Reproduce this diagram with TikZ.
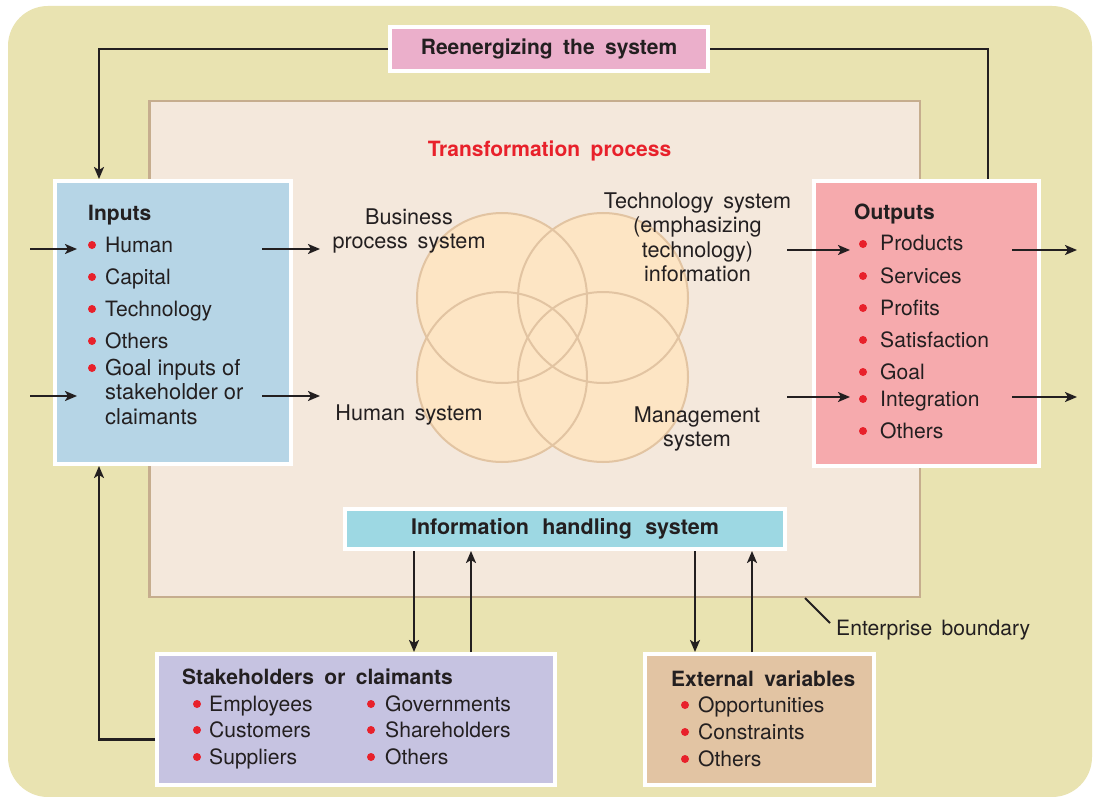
\documentclass[tikz,border=0pt]{standalone}
\usepackage{fontspec}
\setmainfont{TeX Gyre Heros}
\usetikzlibrary{arrows.meta,calc}
\definecolor{bgc}{HTML}{E9E3B1}
\definecolor{entf}{HTML}{F4E8DC}
\definecolor{entb}{HTML}{C6AD8E}
\definecolor{inc}{HTML}{B6D5E6}
\definecolor{outc}{HTML}{F6AAAD}
\definecolor{reenc}{HTML}{EBAFCB}
\definecolor{infoc}{HTML}{9DD8E3}
\definecolor{stkc}{HTML}{C6C3E1}
\definecolor{extc}{HTML}{E2C4A3}
\definecolor{venf}{HTML}{FDE5C4}
\definecolor{venb}{HTML}{E2C4A2}
\definecolor{redc}{HTML}{E8212B}
\definecolor{ink}{HTML}{231F20}
\newcommand\ctrlines[2]{\vtop{\baselineskip=#1pt\halign{\hfil##\hfil\cr#2\crcr}}}
\newcommand\leftlines[2]{\vtop{\baselineskip=#1pt\halign{##\hfil\cr#2\crcr}}}
\newcommand\wsp[1]{\spaceskip=#1em\relax}
\newcommand\bodyfont{\fontsize{21.1}{24.6}\selectfont}
\newcommand\ttlfont{\fontsize{21}{24.6}\selectfont\bfseries\wsp{0.5}}
\newcommand\ctrfont{\fontsize{21.6}{24.6}\selectfont\wsp{0.45}}
\newcommand\myitem[5]{\fill[redc] (#1,#3-7) circle[radius=4pt]; \node[txt] (#4) at (#2,#3) {#5};}
\begin{document}
\begin{tikzpicture}[x=1pt,y=-1pt,
  box/.style={draw=white, line width=4pt, inner sep=0pt},
  txt/.style={inner sep=0pt, anchor=base west, text=ink, font=\bodyfont},
  ctxt/.style={txt, anchor=base, font=\ctrfont},
  ttl/.style={txt, font=\ttlfont},
  ln/.style={line width=2.2pt, draw=ink},
  arr/.style={ln, -{Stealth[length=12pt,width=10pt,inset=3pt]}}]
\useasboundingbox (0,0) rectangle (1093,797);
\fill[white] (0,0) rectangle (1093,797);
\fill[bgc, rounded corners=40pt] (8,6) rectangle (1092,797);

% enterprise boundary
\node[draw=entb, fill=entf, line width=2.5pt, inner sep=0pt, minimum width=770.5pt, minimum height=495.5pt] (ent) at (534.5,349) {};

% venn circles
\foreach \p in {(502,298),(603,298),(502,377),(603,377)} \fill[venf] \p circle[radius=85pt];
\foreach \p in {(502,298),(603,298),(502,377),(603,377)} \draw[venb, line width=2pt] \p circle[radius=85pt];

% boxes
\node[box, fill=reenc, minimum width=318pt, minimum height=44pt, text=ink, font=\ttlfont] (reen) at (549,49) {Reenergizing the system};
\node[box, fill=inc, minimum width=236pt, minimum height=283pt] (inputs) at (173,322.5) {};
\node[box, fill=outc, minimum width=225pt, minimum height=285pt] (outputs) at (926.5,323.5) {};
\node[box, fill=infoc, minimum width=440pt, minimum height=40pt, text=ink, font=\fontsize{21.5}{24.6}\selectfont\bfseries\wsp{0.62}] (info) at (565,529) {Information handling system};
\node[box, fill=stkc, minimum width=398pt, minimum height=131pt] (stake) at (356,719.5) {};
\node[box, fill=extc, minimum width=229pt, minimum height=131pt] (ext) at (759.5,719.5) {};

% titles
\node[ttl, text=redc, anchor=base] (trans) at (549.5,157) {Transformation process};
\node[ttl] (intitle) at (88,220) {Inputs};
\node[ttl] (outtitle) at (854,219) {Outputs};
\node[ttl] (stktitle) at (182,684) {Stakeholders or claimants};
\node[ttl] (exttitle) at (671,686) {External variables};

% inputs list
\myitem{92}{105}{252}{i1}{Human}
\myitem{92}{105}{284}{i2}{Capital}
\myitem{92}{105}{316}{i3}{Technology}
\myitem{92}{105}{348}{i4}{Others}
\myitem{92}{105}{375}{i5}{\fontsize{21.9}{24.5}\selectfont\leftlines{24.5}{Goal inputs of\cr stakeholder or\cr claimants}}

% outputs list
\myitem{863}{880}{251}{o1}{Products}
\myitem{863}{880}{283}{o2}{Services}
\myitem{863}{880}{315}{o3}{Profits}
\myitem{863}{880}{347}{o4}{Satisfaction}
\myitem{863}{880}{379}{o5}{Goal}
\myitem{863}{880}{406}{o6}{Integration}
\myitem{863}{880}{438}{o7}{Others}

% stakeholders list
\myitem{197}{209}{711}{s1}{Employees}
\myitem{197}{209}{737}{s2}{Customers}
\myitem{197}{209}{764}{s3}{Suppliers}
\myitem{371}{385}{711}{s4}{Governments}
\myitem{371}{385}{737}{s5}{Shareholders}
\myitem{371}{385}{764}{s6}{Others}

% external list
\myitem{685}{698}{712}{e1}{Opportunities}
\myitem{685}{698}{739}{e2}{Constraints}
\myitem{685}{698}{766}{e3}{Others}

% center labels
\node[ctxt] (bps) at (409,224) {\ctrlines{24.3}{Business\cr process system}};
\node[ctxt] (tech) at (697.5,208) {\ctrlines{24.6}{Technology system\cr (emphasizing\cr technology)\cr information}};
\node[ctxt] (hum) at (409,420) {Human system};
\node[ctxt] (mgmt) at (697,422) {\ctrlines{24.3}{Management\cr system}};

% enterprise boundary label
\node[txt, font=\bodyfont\wsp{0.45}] (eb) at (836,635) {Enterprise boundary};
\coordinate (ebs) at (805,598);
\coordinate (ebe) at (830,623);
\draw[ln, line width=2pt] (ebs) -- (ebe);

% feedback loops
\draw[arr] (reen.west) -| ([xshift=46pt]inputs.north west);
\draw[ln] (reen.east) -| ([xshift=-53pt]outputs.north east);
\draw[arr] ([yshift=-20pt]stake.west) -| ([xshift=46pt]inputs.south west);

% horizontal flows
\coordinate (l1s) at (30,249); \coordinate (l1e) at (77,249);
\coordinate (l2s) at (30,396); \coordinate (l2e) at (77,396);
\coordinate (m1s) at (262,249); \coordinate (m1e) at (320,249);
\coordinate (m2s) at (262,396); \coordinate (m2e) at (320,396);
\coordinate (n1s) at (787,250); \coordinate (n1e) at (850,250);
\coordinate (n2s) at (787,397); \coordinate (n2e) at (850,397);
\coordinate (r1s) at (1012,250); \coordinate (r1e) at (1077,250);
\coordinate (r2s) at (1012,397); \coordinate (r2e) at (1077,397);
\draw[arr] (l1s) -- (l1e);
\draw[arr] (l2s) -- (l2e);
\draw[arr] (m1s) -- (m1e);
\draw[arr] (m2s) -- (m2e);
\draw[arr] (n1s) -- (n1e);
\draw[arr] (n2s) -- (n2e);
\draw[arr] (r1s) -- (r1e);
\draw[arr] (r2s) -- (r2e);

% vertical flows with information handling system
\draw[arr] ([xshift=71pt]info.south west) -- ([xshift=71pt]info.south west |- stake.north);
\draw[arr] ([xshift=128pt]info.south west |- stake.north) -- ([xshift=128pt]info.south west);
\draw[arr] ([xshift=352pt]info.south west) -- ([xshift=352pt]info.south west |- ext.north);
\draw[arr] ([xshift=409pt]info.south west |- ext.north) -- ([xshift=409pt]info.south west);
\end{tikzpicture}
\end{document}
